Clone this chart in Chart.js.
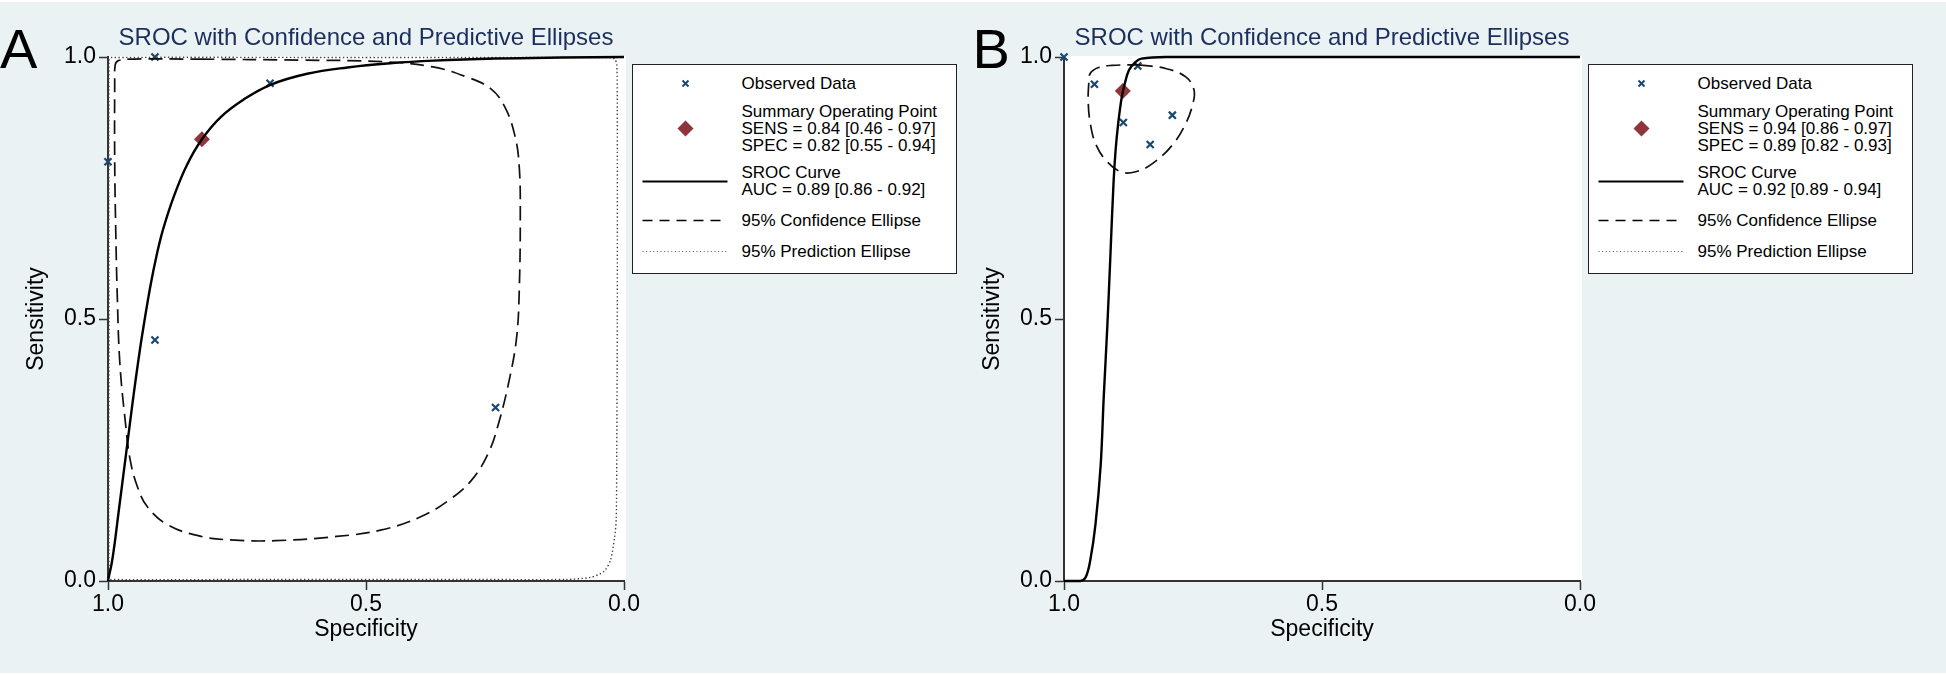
<!DOCTYPE html>
<html><head><meta charset="utf-8">
<script src="https://cdn.jsdelivr.net/npm/chart.js@4.4.1/dist/chart.umd.min.js"></script>
<style>
html,body{margin:0;padding:0;}
body{width:1946px;height:675px;background:#eaf2f3;position:relative;overflow:hidden;font-family:'Liberation Sans',Arial,Helvetica,sans-serif;}
.band{position:absolute;left:0;width:1946px;height:2px;background:#fff;}
.panel{position:absolute;top:0;width:960px;height:675px;}
.panel canvas{position:absolute;left:0;top:0;}
.letter{position:absolute;top:20.7px;font-size:56px;line-height:56px;color:#000;}
.title{position:absolute;left:108px;width:516px;top:25.2px;font-size:24px;line-height:24px;text-align:center;color:#1c2e5c;white-space:nowrap;}
.legend{position:absolute;left:632px;top:64px;width:325px;height:210px;box-sizing:border-box;border:1.5px solid #222;background:#fff;}
.legend svg{position:absolute;left:0;top:0;}
.lt{position:absolute;left:108.5px;font-size:17px;line-height:17.2px;white-space:nowrap;color:#000;}
</style>
</head>
<body>
<div class="band" style="top:0"></div>
<div class="band" style="top:673px"></div>

<script>
// ---------------- Panel A data ----------------
const obsA_spec = [0.909, 0.686, 1.000, 0.909, 0.249];
const obsA_sens = [1.000, 0.950, 0.800, 0.460, 0.331];
const sumA_spec = [0.818];
const sumA_sens = [0.843];
const srocA_spec = [1.000, 0.998, 0.993, 0.988, 0.979, 0.966, 0.958, 0.950, 0.942, 0.934, 0.918, 0.905, 0.893, 0.872, 0.847, 0.818, 0.782, 0.737, 0.685, 0.614, 0.536, 0.453, 0.369, 0.250, 0.120, 0.000];
const srocA_sens = [0.000, 0.010, 0.033, 0.065, 0.135, 0.235, 0.297, 0.358, 0.415, 0.468, 0.562, 0.625, 0.672, 0.735, 0.794, 0.843, 0.885, 0.919, 0.947, 0.968, 0.980, 0.988, 0.993, 0.997, 0.999, 1.000];
const confA_spec = [0.821, 0.627, 0.466, 0.370, 0.305, 0.259, 0.231, 0.211, 0.203, 0.201, 0.203, 0.208, 0.221, 0.243, 0.263, 0.295, 0.334, 0.393, 0.472, 0.557, 0.675, 0.754, 0.819, 0.884, 0.924, 0.943, 0.957, 0.966, 0.977, 0.982, 0.985, 0.987, 0.987, 0.986, 0.980, 0.950, 0.821];
const confA_sens = [0.996, 0.994, 0.991, 0.981, 0.962, 0.940, 0.905, 0.848, 0.790, 0.700, 0.555, 0.466, 0.390, 0.301, 0.244, 0.193, 0.158, 0.123, 0.097, 0.085, 0.077, 0.078, 0.085, 0.107, 0.142, 0.180, 0.231, 0.300, 0.415, 0.543, 0.670, 0.800, 0.950, 0.985, 0.993, 0.996, 0.996];
const predA_spec = [0.500, 0.030, 0.018, 0.014, 0.013, 0.013, 0.014, 0.015, 0.018, 0.026, 0.039, 0.065, 0.111, 0.300, 0.700, 0.995, 0.998, 0.998, 0.998, 0.995, 0.500];
const predA_sens = [0.999, 0.999, 0.996, 0.985, 0.900, 0.500, 0.250, 0.120, 0.085, 0.040, 0.018, 0.007, 0.003, 0.003, 0.003, 0.003, 0.008, 0.500, 0.994, 0.999, 0.999];
const legendA = ['Observed Data', 'Summary Operating Point', 'SENS = 0.84 [0.46 - 0.97]', 'SPEC = 0.82 [0.55 - 0.94]', 'SROC Curve', 'AUC = 0.89 [0.86 - 0.92]', '95% Confidence Ellipse', '95% Prediction Ellipse'];

// ---------------- Panel B data ----------------
const obsB_spec = [1.000, 0.941, 0.857, 0.885, 0.790, 0.833];
const obsB_sens = [1.000, 0.948, 0.983, 0.875, 0.889, 0.833];
const sumB_spec = [0.886];
const sumB_sens = [0.935];
const srocB_spec = [1.000, 0.968, 0.958, 0.949, 0.939, 0.929, 0.923, 0.916, 0.910, 0.904, 0.900, 0.895, 0.888, 0.882, 0.874, 0.864, 0.850, 0.800, 0.000];
const srocB_sens = [0.000, 0.000, 0.007, 0.040, 0.108, 0.220, 0.351, 0.487, 0.623, 0.760, 0.822, 0.873, 0.924, 0.950, 0.975, 0.988, 0.997, 1.000, 1.000];
const confB_spec = [0.855, 0.803, 0.764, 0.748, 0.750, 0.764, 0.790, 0.828, 0.861, 0.890, 0.919, 0.939, 0.949, 0.953, 0.952, 0.949, 0.933, 0.907, 0.855];
const confB_sens = [0.985, 0.978, 0.962, 0.937, 0.912, 0.873, 0.832, 0.797, 0.781, 0.781, 0.803, 0.835, 0.873, 0.912, 0.950, 0.969, 0.980, 0.984, 0.985];
const predB_spec = [];
const predB_sens = [];
const legendB = ['Observed Data', 'Summary Operating Point', 'SENS = 0.94 [0.86 - 0.97]', 'SPEC = 0.89 [0.82 - 0.93]', 'SROC Curve', 'AUC = 0.92 [0.89 - 0.94]', '95% Confidence Ellipse', '95% Prediction Ellipse'];

// tick labels
const tickValues = [0, 0.5, 1];
const chartTitle = 'SROC with Confidence and Predictive Ellipses';
const xTitle = 'Specificity';
const yTitle = 'Sensitivity';

// ---------------- drawing ----------------
const F = "'Liberation Sans', Arial, Helvetica, sans-serif";
Chart.defaults.font.family = F;
const pts = (xs, ys) => xs.map((x, i) => ({x: x, y: ys[i]}));

const plotBg = {
  id: 'plotBg',
  beforeDraw(chart) {
    const a = chart.chartArea, c = chart.ctx;
    c.save(); c.fillStyle = '#ffffff';
    c.fillRect(a.left, a.top - 1, a.right - a.left + 2, a.bottom - a.top + 1);
    c.restore();
  }
};

function buildPanel(left, letter, letterLeft, d) {
  const panel = document.createElement('div');
  panel.className = 'panel';
  panel.style.left = left + 'px';
  document.body.appendChild(panel);

  const cv = document.createElement('canvas');
  cv.width = 650; cv.height = 675;
  cv.style.width = '650px'; cv.style.height = '675px';
  panel.appendChild(cv);

  const L = document.createElement('div');
  L.className = 'letter'; L.style.left = letterLeft + 'px'; L.textContent = letter;
  panel.appendChild(L);

  const T = document.createElement('div');
  T.className = 'title'; T.textContent = chartTitle;
  panel.appendChild(T);

  // legend
  const lg = document.createElement('div');
  lg.className = 'legend';
  lg.innerHTML =
    '<svg width="120" height="207" xmlns="http://www.w3.org/2000/svg">' +
    '<g stroke="#1a476f" stroke-width="2"><line x1="49.5" y1="15.5" x2="55.5" y2="21.5"/><line x1="49.5" y1="21.5" x2="55.5" y2="15.5"/></g>' +
    '<polygon points="52.5,55.5 60.5,63.5 52.5,71.5 44.5,63.5" fill="#90353b"/>' +
    '<line x1="9.5" y1="116.5" x2="94.5" y2="116.5" stroke="#000" stroke-width="2"/>' +
    '<line x1="9.5" y1="155.5" x2="94.5" y2="155.5" stroke="#000" stroke-width="1.5" stroke-dasharray="10 7"/>' +
    '<line x1="9.5" y1="186.5" x2="94.5" y2="186.5" stroke="#555" stroke-width="1.2" stroke-dasharray="1 2.6"/>' +
    '</svg>';
  const lines = d.legend;
  const blocks = [[9.9, [lines[0]]], [37.6, [lines[1], lines[2], lines[3]]], [99.2, [lines[4], lines[5]]], [146.9, [lines[6]]], [177.9, [lines[7]]]];
  blocks.forEach(b => {
    const t = document.createElement('div');
    t.className = 'lt'; t.style.top = b[0] + 'px';
    b[1].forEach((s, i) => { if (i) t.appendChild(document.createElement('br')); t.appendChild(document.createTextNode(s)); });
    lg.appendChild(t);
  });
  panel.appendChild(lg);

  const axisFont = {family: F, size: 23};
  const common = {
    type: 'linear', min: 0, max: 1,
    grid: {drawOnChartArea: false, drawTicks: true, tickLength: 9, tickColor: '#333', tickWidth: 1.5},
    border: {display: true, color: '#333', width: 2}
  };

  const datasets = [
    {label: 'SROC Curve', data: pts(d.srocSpec, d.srocSens), showLine: true, borderColor: '#000', borderWidth: 2.4,
     pointRadius: 0, pointHoverRadius: 0, tension: 0.4, fill: false, clip: false},
    {label: '95% Confidence Ellipse', data: pts(d.confSpec, d.confSens), showLine: true, borderColor: '#111', borderWidth: 1.7,
     borderDash: [14, 7], pointRadius: 0, pointHoverRadius: 0, tension: 0.4, fill: false, clip: false},
    {label: '95% Prediction Ellipse', data: pts(d.predSpec, d.predSens), showLine: true, borderColor: '#444', borderWidth: 1.4,
     borderDash: [1.4, 2.4], pointRadius: 0, pointHoverRadius: 0, tension: 0.25, fill: false, clip: false},
    {label: 'Summary Operating Point', data: pts(d.sumSpec, d.sumSens), showLine: false, pointStyle: 'rectRot', pointRadius: 8,
     backgroundColor: '#90353b', borderColor: '#90353b', borderWidth: 0, clip: false},
    {label: 'Observed Data', data: pts(d.obsSpec, d.obsSens), showLine: false, pointStyle: 'crossRot', pointRadius: 5,
     borderColor: '#1a476f', backgroundColor: '#1a476f', borderWidth: 2.2, clip: false}
  ];

  new Chart(cv, {
    type: 'scatter',
    data: {datasets: datasets},
    options: {
      responsive: false, animation: false, devicePixelRatio: 1, events: [],
      layout: {padding: {left: 0, top: 57, right: 26, bottom: 0}},
      plugins: {legend: {display: false}, tooltip: {enabled: false}, title: {display: false}},
      scales: {
        x: Object.assign({}, common, {
          reverse: true,
          afterFit: s => { s.height = 94; },
          afterBuildTicks: s => { s.ticks = tickValues.map(v => ({value: v})); },
          ticks: {callback: v => Number(v).toFixed(1), font: axisFont, color: '#000', padding: 1, maxRotation: 0, autoSkip: false},
          title: {display: true, text: xTitle, font: axisFont, color: '#000', padding: {top: 0, bottom: 32}}
        }),
        y: Object.assign({}, common, {
          afterFit: s => { s.width = 108; },
          afterBuildTicks: s => { s.ticks = tickValues.map(v => ({value: v})); },
          ticks: {callback: v => Number(v).toFixed(1), font: axisFont, color: '#000', padding: 3, autoSkip: false},
          title: {display: true, text: yTitle, font: axisFont, color: '#000', padding: {top: 23, bottom: 0}}
        })
      }
    },
    plugins: [plotBg]
  });
}

buildPanel(0, 'A', 0, {
  obsSpec: obsA_spec, obsSens: obsA_sens, sumSpec: sumA_spec, sumSens: sumA_sens,
  srocSpec: srocA_spec, srocSens: srocA_sens, confSpec: confA_spec, confSens: confA_sens,
  predSpec: predA_spec, predSens: predA_sens, legend: legendA
});
buildPanel(956, 'B', 16.5, {
  obsSpec: obsB_spec, obsSens: obsB_sens, sumSpec: sumB_spec, sumSens: sumB_sens,
  srocSpec: srocB_spec, srocSens: srocB_sens, confSpec: confB_spec, confSens: confB_sens,
  predSpec: predB_spec, predSens: predB_sens, legend: legendB
});
</script>
</body></html>
